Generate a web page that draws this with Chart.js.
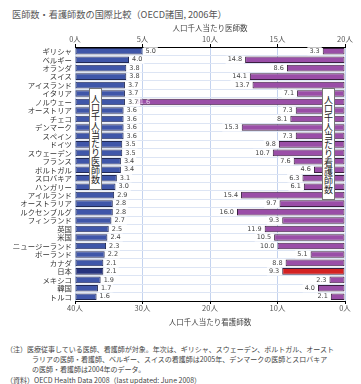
<!DOCTYPE html>
<html lang="ja">
<head>
<meta charset="utf-8">
<script src="https://cdn.jsdelivr.net/npm/chart.js@4.4.1/dist/chart.umd.min.js"></script>
<style>
    body { margin: 0; width: 361px; height: 384px; background: #fff; position: relative; overflow: hidden;
           font-family: 'Noto Sans CJK JP', sans-serif; color: #444; }
    #chart { position: absolute; left: 0; top: 0; }
    .title { position: absolute; left: 12px; top: 7px; font-size: 9.2px; color: #555; white-space: nowrap; }
    .vlabel { position: absolute; background: #fff; border: 1px solid #777; writing-mode: vertical-rl;
              font-size: 9px; line-height: 11px; width: 11px; text-align: center; color: #222; }
    .note { position: absolute; font-size: 7px; line-height: 9px; color: #444; white-space: nowrap; }
</style>
</head>
<body>
<div class="title">医師数・看護師数の国際比較（OECD諸国, 2006年）</div>
<canvas id="chart" width="361" height="330"></canvas>
<div class="vlabel" style="left:89px; top:88px; height:100px;">人口千人当たり医師数</div>
<div class="vlabel" style="left:322px; top:88px; height:110px;">人口千人当たり看護師数</div>
<div class="note" style="left:6px; top:345px;">（注）医療従事している医師、看護師が対象。年次は、ギリシャ、スウェーデン、ポルトガル、オースト</div>
<div class="note" style="left:32px; top:355px;">ラリアの医師・看護師、ベルギー、スイスの看護師は2005年、デンマークの医師とスロバキア</div>
<div class="note" style="left:32px; top:365px;">の医師・看護師は2004年のデータ。</div>
<div class="note" style="left:6px; top:376px;">（資料）OECD Health Data 2008（last updated: June 2008）</div>
<script>
const countries = ['ギリシャ', 'ベルギー', 'オランダ', 'スイス', 'アイスランド', 'イタリア', 'ノルウェー',
    'オーストリア', 'チェコ', 'デンマーク', 'スペイン', 'ドイツ', 'スウェーデン', 'フランス', 'ポルトガル',
    'スロバキア', 'ハンガリー', 'アイルランド', 'オーストラリア', 'ルクセンブルグ', 'フィンランド', '英国',
    '米国', 'ニュージーランド', 'ポーランド', 'カナダ', '日本', 'メキシコ', '韓国', 'トルコ'];

// per 1,000 population
const doctors = [5.0, 4.0, 3.8, 3.8, 3.7, 3.7, 3.7, 3.6, 3.6, 3.6, 3.6, 3.5, 3.5, 3.4, 3.4,
    3.1, 3.0, 2.9, 2.8, 2.8, 2.7, 2.5, 2.4, 2.3, 2.2, 2.1, 2.1, 1.9, 1.7, 1.6];
const nurses = [3.3, 14.8, 8.6, 14.1, 13.7, 7.1, 31.6, 7.3, 8.1, 15.3, 7.3, 9.8, 10.7, 7.6, 4.6,
    6.3, 6.1, 15.4, 9.7, 16.0, 9.3, 11.9, 10.5, 10.0, 5.1, 8.8, 9.3, 2.3, 4.0, 2.1];

const doctorTicks = [0, 5, 10, 15, 20];
const nurseTicks = [0, 10, 20, 30, 40];

const highlight = '日本';
const font = 'Noto Sans CJK JP';
Chart.defaults.font.family = font;

// value labels next to each bar, on a white box
const valueLabels = {
    id: 'valueLabels',
    afterDatasetsDraw(chart) {
        const ctx = chart.ctx;
        ctx.save();
        ctx.font = '6.5px "DejaVu Sans"';
        ctx.textBaseline = 'middle';

        chart.getDatasetMeta(0).data.forEach((bar, i) => {
            const txt = doctors[i].toFixed(1);
            const w = ctx.measureText(txt).width;
            ctx.fillStyle = '#fff';
            ctx.fillRect(bar.x + 1, bar.y - 4, w + 4, 8);
            ctx.fillStyle = '#444';
            ctx.textAlign = 'left';
            ctx.fillText(txt, bar.x + 3, bar.y);
        });

        chart.getDatasetMeta(1).data.forEach((bar, i) => {
            const txt = nurses[i].toFixed(1);
            const w = ctx.measureText(txt).width;
            if (nurses[i] > 30) {
                // not enough room on the left, write it inside the bar
                ctx.fillStyle = '#ead6ee';
                ctx.textAlign = 'left';
                ctx.fillText(txt, bar.x + 4, bar.y);
                return;
            }
            ctx.fillStyle = '#fff';
            ctx.fillRect(bar.x - w - 5, bar.y - 4, w + 4, 8);
            ctx.fillStyle = '#444';
            ctx.textAlign = 'right';
            ctx.fillText(txt, bar.x - 3, bar.y);
        });
        ctx.restore();
    }
};

new Chart(document.getElementById('chart'), {
    type: 'bar',
    data: {
        labels: countries,
        datasets: [{
            label: '人口千人当たり医師数',
            data: doctors,
            xAxisID: 'x',
            grouped: false,
            backgroundColor: countries.map(c => c === highlight ? '#26337e' : '#3f56a9'),
            borderColor: '#222a55',
            borderWidth: 1,
            borderSkipped: false,
            barPercentage: 0.78,
            categoryPercentage: 1
        }, {
            label: '人口千人当たり看護師数',
            data: nurses,
            xAxisID: 'x2',
            grouped: false,
            backgroundColor: countries.map(c => c === highlight ? '#d42222' : '#9a4ea7'),
            borderColor: '#3a2040',
            borderWidth: 1,
            borderSkipped: false,
            barPercentage: 0.78,
            categoryPercentage: 1
        }]
    },
    options: {
        indexAxis: 'y',
        responsive: false,
        animation: false,
        layout: { padding: { left: 0, right: 16, top: 24, bottom: 3 } },
        plugins: {
            legend: { display: false },
            tooltip: { enabled: false }
        },
        scales: {
            x: {
                position: 'top',
                min: 0,
                max: 20,
                afterBuildTicks: s => { s.ticks = doctorTicks.map(v => ({ value: v })); },
                afterFit: s => { s.height = 23; },
                ticks: {
                    callback: v => v + '人',
                    font: { size: 7.5 },
                    color: '#555',
                    padding: 0,
                    maxRotation: 0
                },
                grid: { color: '#c4d3ef', tickColor: '#000', tickLength: 3 },
                border: { color: '#000', width: 1 },
                title: {
                    display: true,
                    text: '人口千人当たり医師数',
                    font: { size: 7.5 },
                    color: '#444',
                    padding: 0
                }
            },
            x2: {
                position: 'bottom',
                reverse: true,
                min: 0,
                max: 40,
                afterBuildTicks: s => { s.ticks = nurseTicks.map(v => ({ value: v })); },
                afterFit: s => { s.height = 26; },
                ticks: {
                    callback: v => v + '人',
                    font: { size: 7.5 },
                    color: '#555',
                    padding: 0,
                    maxRotation: 0
                },
                grid: { drawOnChartArea: false, tickColor: '#000', tickLength: 3 },
                border: { color: '#000', width: 1 },
                title: {
                    display: true,
                    text: '人口千人当たり看護師数',
                    font: { size: 7.5 },
                    color: '#444',
                    padding: 0
                }
            },
            y: {
                afterFit: s => { s.width = 75; },
                ticks: {
                    autoSkip: false,
                    font: { size: 7.4 },
                    color: '#333',
                    padding: 3
                },
                grid: { color: '#dde5f4', drawTicks: false },
                border: { display: false }
            }
        }
    },
    plugins: [valueLabels]
});
</script>
</body>
</html>
